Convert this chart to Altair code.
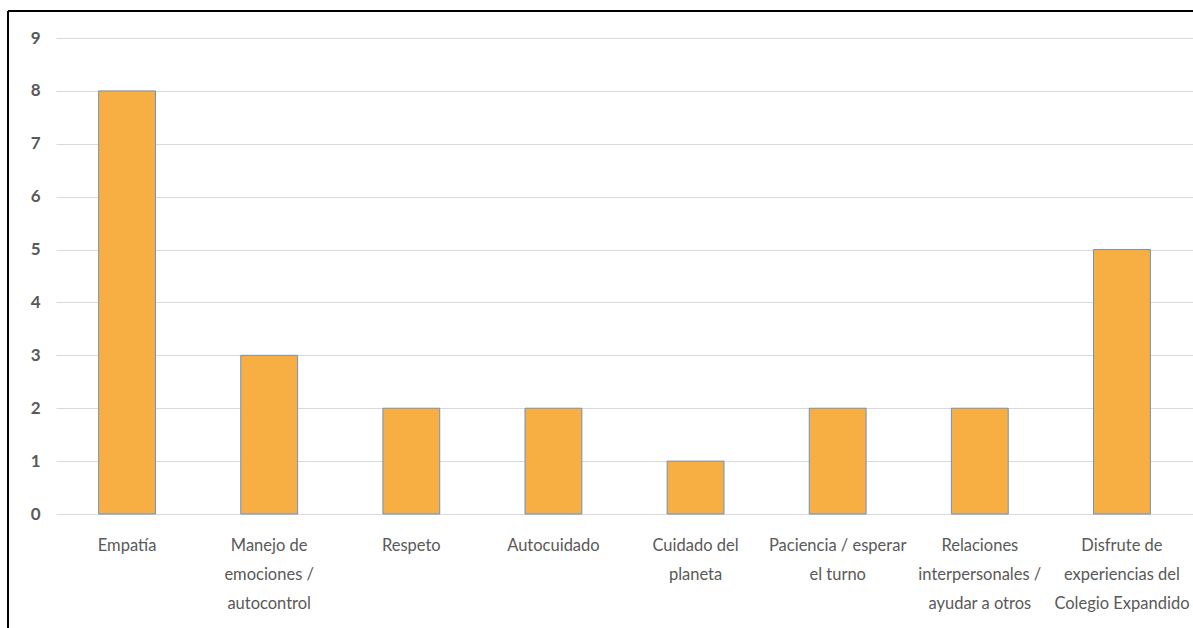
import altair as alt
import pandas as pd

categories = [
    "Empatía",
    "Manejo de|emociones /|autocontrol",
    "Respeto",
    "Autocuidado",
    "Cuidado del|planeta",
    "Paciencia / esperar|el turno",
    "Relaciones|interpersonales /|ayudar a otros",
    "Disfrute de|experiencias del|Colegio Expandido",
]
values = [8, 3, 2, 2, 1, 2, 2, 5]
y_ticks = [0, 1, 2, 3, 4, 5, 6, 7, 8, 9]

df = pd.DataFrame({"cat": categories, "val": values})

bars = alt.Chart(df).mark_bar(
    color="#F7AE42", stroke="#6A93C8", strokeWidth=1
).encode(
    x=alt.X(
        "cat:N", sort=None, title=None,
        scale=alt.Scale(paddingInner=0.6, paddingOuter=0.3),
        axis=alt.Axis(
            labelAngle=0, labelExpr="split(datum.label, '|')",
            labelFont="Lato", labelFontSize=16.5, labelColor="#595959",
            labelLineHeight=29, labelPadding=23, ticks=False, domain=False,
            labelBaseline="top",
        ),
    ),
    y=alt.Y(
        "val:Q", title=None,
        scale=alt.Scale(domain=[0, 9]),
        axis=alt.Axis(
            values=y_ticks, labelFont="Lato", labelFontSize=17,
            labelFontWeight="bold", labelColor="#595959", labelPadding=16,
            ticks=False, domain=False, gridColor="#D9D9D9", gridWidth=1,
        ),
    ),
)

top_border = alt.Chart(df).mark_rule(color="black", strokeWidth=2).encode(
    x=alt.value(-48), x2=alt.value(1140), y=alt.value(-27)
)
left_border = alt.Chart(df).mark_rule(color="black", strokeWidth=2).encode(
    x=alt.value(-48), y=alt.value(-27), y2=alt.value(600)
)

chart = alt.layer(bars, top_border, left_border).properties(
    width=1137, height=476,
    autosize=alt.AutoSizeParams(type="none"),
    padding={"left": 56, "top": 38, "right": 0, "bottom": 114},
    background="white",
).configure_view(stroke=None)

chart.save("out.html", embed_options={"renderer": "svg", "actions": False})
